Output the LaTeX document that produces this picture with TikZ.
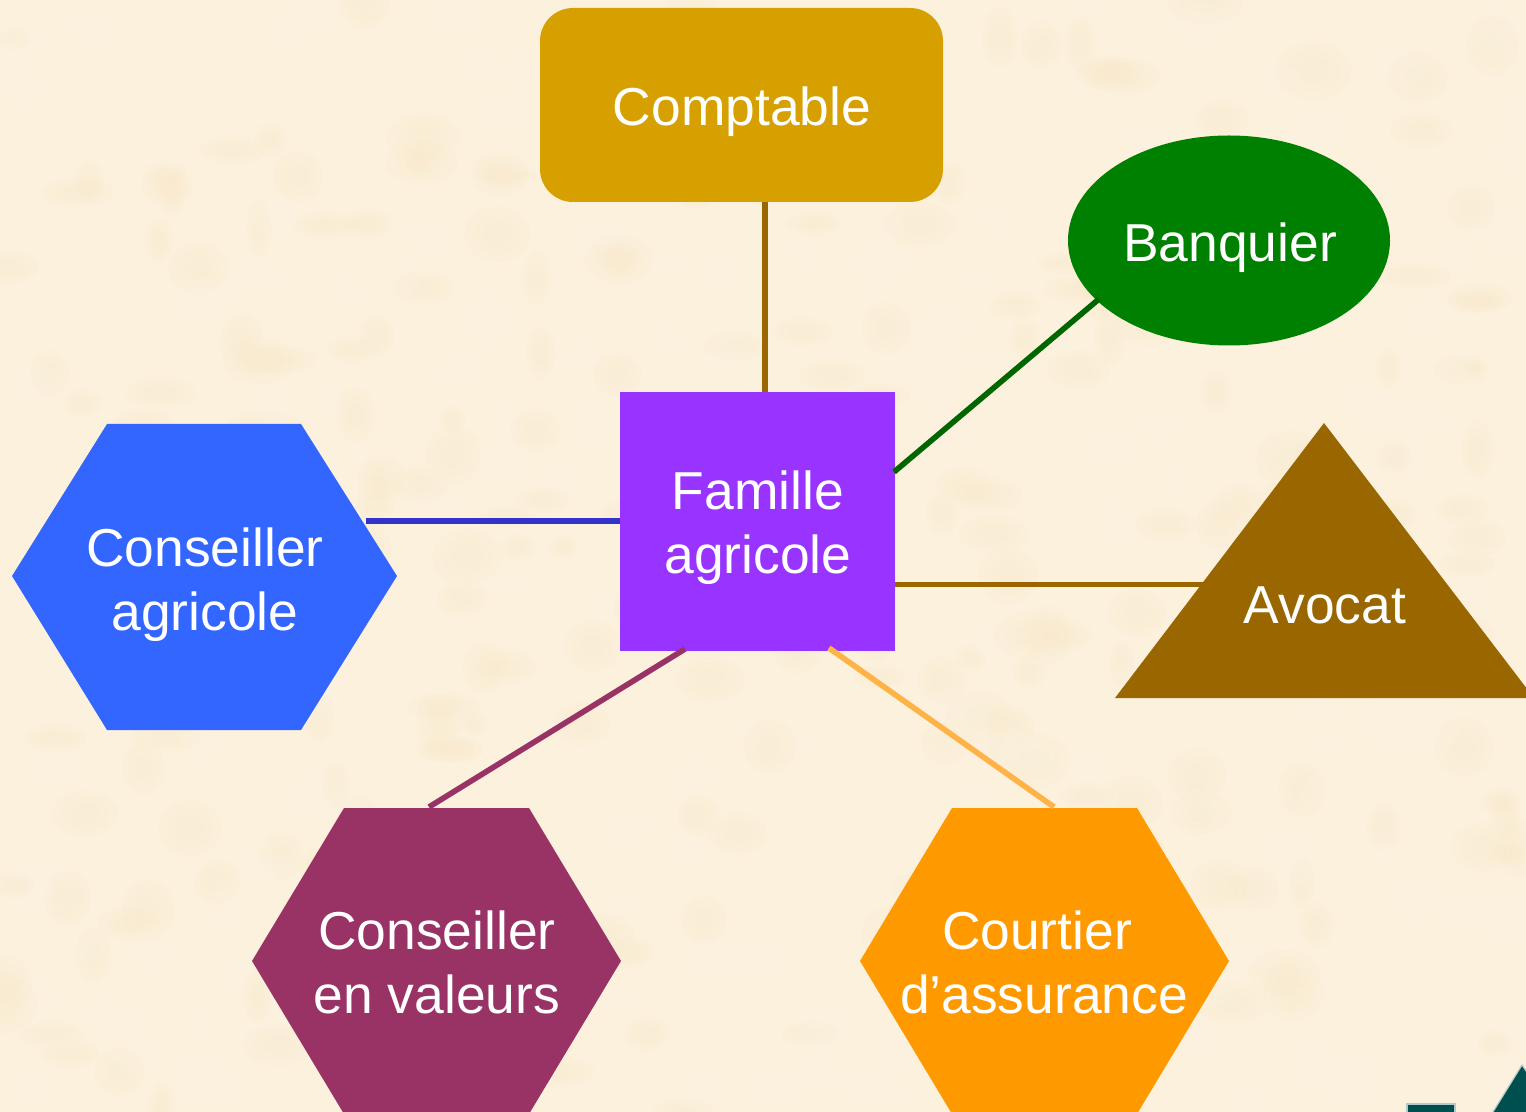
\documentclass[tikz,border=0pt]{standalone}
\usepackage{fontspec}
\setmainfont{Liberation Sans}
\usetikzlibrary{shapes.geometric}
\definecolor{paper}{HTML}{FCF1DC}
\definecolor{paperd}{HTML}{F9E9CB}
\definecolor{paperl}{HTML}{FFF6E6}
\definecolor{cgold}{HTML}{D5A000}
\definecolor{cgreen}{HTML}{008000}
\definecolor{cgreenl}{HTML}{006600}
\definecolor{cbrown}{HTML}{996600}
\definecolor{cviolet}{HTML}{9933FF}
\definecolor{cblue}{HTML}{3366FF}
\definecolor{cbluel}{HTML}{3333CC}
\definecolor{cplum}{HTML}{993366}
\definecolor{corange}{HTML}{FF9900}
\definecolor{corangel}{HTML}{FFB347}
\definecolor{cteal}{HTML}{004F4F}
\tikzset{
  lbl/.style={text=white,font=\fontsize{26.7pt}{32pt}\selectfont,align=center,inner sep=0pt},
  conn/.style={line width=2.8pt},
  blotch/.style={opacity=0.13},
}
\newcommand{\softblot}[5]{%
  \fill[#5,blotch] (#1,#2) ellipse [x radius=#3, y radius=#4];
  \fill[#5,blotch] (#1,#2) ellipse [x radius=0.72*#3, y radius=0.72*#4];
  \fill[#5,blotch] (#1,#2) ellipse [x radius=0.45*#3, y radius=0.45*#4];
}
\begin{document}
\begin{tikzpicture}[x=0.5pt,y=-0.5pt]
\useasboundingbox (0,0) rectangle (1526,1112);
\clip (0,0) rectangle (1526,1112);
\fill[paper] (0,0) rectangle (1526,1112);
% mottled paper
\pgfmathsetseed{4217}
\foreach \i in {1,...,500}{
  \pgfmathsetmacro{\bx}{rnd*1526}
  \pgfmathsetmacro{\by}{rnd*1112}
  \pgfmathsetmacro{\ba}{12+rnd*26}
  \pgfmathsetmacro{\bb}{10+rnd*20}
  \pgfmathsetmacro{\bc}{rnd}
  \ifdim\bc pt<0.5pt
    \softblot{\bx}{\by}{\ba}{\bb}{paperd}
  \else
    \softblot{\bx}{\by}{\ba}{\bb}{paperl}
  \fi
}
% shapes
\fill[cgold,rounded corners=16.5pt] (540,8) rectangle (943,202);
\fill[cgreen] (1229,240.5) ellipse [x radius=161, y radius=105];
\fill[cviolet] (620,392) rectangle (895,651);
\fill[cbrown] (1324,423) -- (1115,698) -- (1534,698) -- cycle;
\fill[cblue] (107,424) -- (301,424) -- (397,576) -- (301,730) -- (107,730) -- (12,576) -- cycle;
\fill[cplum] (344,808) -- (529,808) -- (621,961) -- (529,1114) -- (344,1114) -- (252,961) -- cycle;
\fill[corange] (952,808) -- (1137,808) -- (1229,961) -- (1137,1114) -- (952,1114) -- (860,961) -- cycle;
\draw[white!70!cteal,line width=0.6pt,fill=cteal] (1407,1104) rectangle (1455,1120);
\draw[white!70!cteal,line width=0.6pt,fill=cteal] (1522,1065) -- (1488,1120) -- (1560,1120) -- cycle;
% connector ends
\coordinate (c1a) at (765,202); \coordinate (c1b) at (765,392);
\coordinate (c2a) at (1099,299); \coordinate (c2b) at (894,472);
\coordinate (c3a) at (1203,584.5); \coordinate (c3b) at (895,584.5);
\coordinate (c4a) at (366,521); \coordinate (c4b) at (620,521);
\coordinate (c5a) at (429,807); \coordinate (c5b) at (685,649);
\coordinate (c6a) at (1054,807); \coordinate (c6b) at (829,648);
\draw[conn,cbrown] (c1a) -- (c1b);
\draw[conn,cgreenl] (c2a) -- (c2b);
\draw[conn,cbrown] (c3a) -- (c3b);
\draw[conn,cbluel] (c4a) -- (c4b);
\draw[conn,cplum] (c5a) -- (c5b);
\draw[conn,corangel] (c6a) -- (c6b);
% labels
\node[lbl] (comptable) at (742,112) {Comptable};
\node[lbl] (banquier) at (1230,248) {Banquier};
\node[lbl] (famille) at (758,528) {Famille\\agricole};
\node[lbl] (avocat) at (1325,605) {Avocat};
\node[lbl] (cagri) at (205,584.5) {Conseiller\\agricole};
\node[lbl] (cval) at (437,962.5) {Conseiller\\en valeurs};
\node[lbl] (court) at (1044,962.5) {Courtier\kern7pt\\d’assurance};
\end{tikzpicture}
\end{document}
